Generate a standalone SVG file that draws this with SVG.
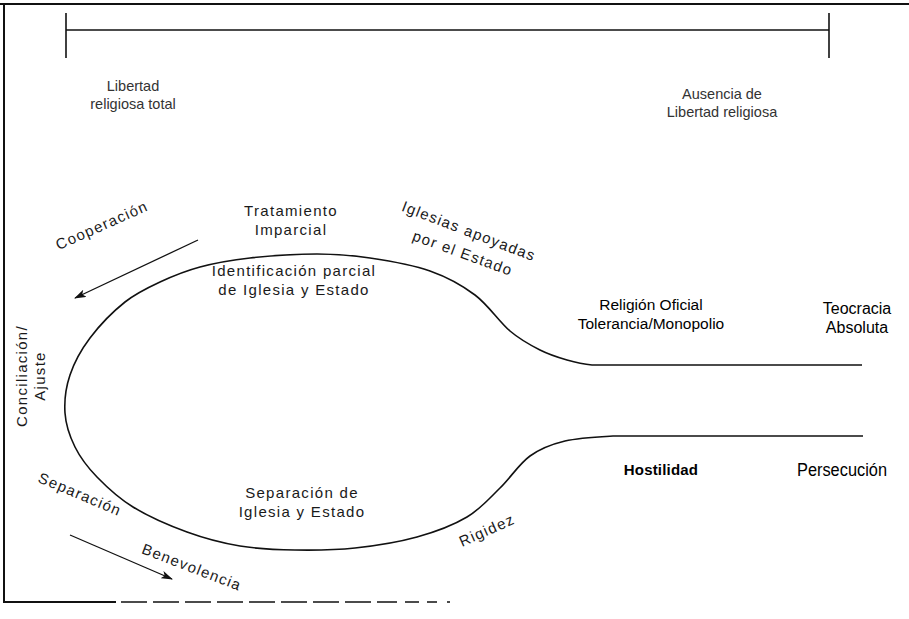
<svg xmlns="http://www.w3.org/2000/svg" width="909" height="619" viewBox="0 0 909 619">
  <style>
    .t { font-family: "Liberation Sans", Arial, sans-serif; fill: #1a1a1a; }
    .g { fill: #333; }
    .s15 { font-size: 15px; letter-spacing: 1.3px; }
    .s14 { font-size: 14.5px; }
    .blk { fill: #000; }
    .ln { fill: none; stroke: #111; stroke-width: 1.6; }
  </style>
  <defs>
    <marker id="ah" viewBox="0 0 12 8" refX="11" refY="4" markerWidth="12" markerHeight="8" markerUnits="userSpaceOnUse" orient="auto">
      <path d="M0,0 L12,4 L0,8 L3,4 Z" fill="#111"/>
    </marker>
  </defs>

  <!-- frame -->
  <g id="frame" class="ln">
    <line x1="0" y1="4" x2="909" y2="4" stroke-width="1.8"/>
    <line x1="4" y1="4" x2="4" y2="603" stroke-width="2"/>
    <line x1="3" y1="602" x2="116" y2="602" stroke-width="2"/>
    <path d="M121,602 H450" stroke-width="1.6" stroke-dasharray="26 6 26 6 26 6 26 6 26 6 26 6 26 6 26 6 20 8 14 8 10 10"/>
  </g>

  <!-- scale -->
  <g id="scale" class="ln">
    <line x1="66" y1="30" x2="829" y2="30"/>
    <line x1="66" y1="13" x2="66" y2="58"/>
    <line x1="829" y1="13" x2="829" y2="58"/>
  </g>
  <g id="pole-left">
    <text class="t g s14" x="133" y="91" text-anchor="middle">Libertad</text>
    <text class="t g s14" x="133" y="109" text-anchor="middle">religiosa total</text>
  </g>
  <g id="pole-right">
    <text class="t g s14" x="722" y="99" text-anchor="middle">Ausencia de</text>
    <text class="t g s14" x="722" y="117" text-anchor="middle">Libertad religiosa</text>
  </g>

  <!-- connectors -->
  <g id="connectors" class="ln">
    <path id="curve" d="M862,365 L592,365 C583.2,364.2 575.7,362.5 567,360 C558.3,357.5 549.5,354.8 540,350 C530.5,345.2 520.8,340.2 510,331 C499.2,321.8 488.3,305 475,295 C461.7,285 447.5,277.2 430,271 C412.5,264.8 388.8,260.8 370,258 C351.2,255.2 337,254 317,254 C297,254 269.5,255.8 250,258 C230.5,260.2 215,263 200,267 C185,271 172.5,276.2 160,282 C147.5,287.8 136.7,292.7 125,302 C113.3,311.3 99.2,325.8 90,338 C80.8,350.2 74.2,362.5 70,375 C65.8,387.5 64.2,401 65,413 C65.8,425 69.7,436.3 75,447 C80.3,457.7 87.3,467 97,477 C106.7,487 118,497.8 133,507 C148,516.2 169.2,525.5 187,532 C204.8,538.5 222,543 240,546 C258,549 275.8,549.7 295,550 C314.2,550.3 334.7,550.2 355,548 C375.3,545.8 398.3,542.2 417,537 C435.7,531.8 453.2,525.2 467,517 C480.8,508.8 489.5,498.2 500,488 C510.5,477.8 519.2,463.8 530,456 C540.8,448.2 551.2,444.3 565,441 C578.8,437.7 598.8,436.8 613,436 L863,436"/>
    <line id="arrow-coop" x1="198" y1="240" x2="75" y2="298" stroke-width="1.3" marker-end="url(#ah)"/>
    <line id="arrow-benev" x1="70" y1="535" x2="172" y2="579" stroke-width="1.3" marker-end="url(#ah)"/>
  </g>

  <g id="n-tratamiento">
    <text class="t s15" x="291" y="216" text-anchor="middle">Tratamiento</text>
    <text class="t s15" x="291" y="235" text-anchor="middle">Imparcial</text>
  </g>
  <g id="n-cooperacion">
    <text class="t s15" transform="translate(104,230) rotate(-24)" text-anchor="middle">Cooperación</text>
  </g>
  <g id="n-identificacion">
    <text class="t s15" x="294" y="276" text-anchor="middle">Identificación parcial</text>
    <text class="t s15" x="294" y="295" text-anchor="middle">de Iglesia y Estado</text>
  </g>
  <g id="n-iglesias">
    <text class="t s15" transform="translate(467,236) rotate(21)" text-anchor="middle">Iglesias apoyadas</text>
    <text class="t s15" transform="translate(461,258) rotate(20)" text-anchor="middle">por el Estado</text>
  </g>
  <g id="n-religion">
    <text class="t blk" font-size="15.5" x="651" y="310" text-anchor="middle">Religión Oficial</text>
    <text class="t blk" font-size="15.5" x="651" y="329" text-anchor="middle">Tolerancia/Monopolio</text>
  </g>
  <g id="n-teocracia">
    <text class="t blk" font-size="16" x="857" y="314" text-anchor="middle">Teocracia</text>
    <text class="t blk" font-size="16" x="857" y="333" text-anchor="middle">Absoluta</text>
  </g>
  <g id="n-conciliacion">
    <text class="t s15" transform="translate(27,376) rotate(-90)" text-anchor="middle">Conciliación/</text>
    <text class="t s15" transform="translate(45,376) rotate(-90)" text-anchor="middle">Ajuste</text>
  </g>
  <g id="n-separacion-lado">
    <text class="t s15" transform="translate(78,499) rotate(23)" text-anchor="middle">Separación</text>
  </g>
  <g id="n-separacion">
    <text class="t s15" x="302" y="498" text-anchor="middle">Separación de</text>
    <text class="t s15" x="302" y="517" text-anchor="middle">Iglesia y Estado</text>
  </g>
  <g id="n-benevolencia">
    <text class="t s15" transform="translate(190,572) rotate(21)" text-anchor="middle">Benevolencia</text>
  </g>
  <g id="n-rigidez">
    <text class="t s15" transform="translate(489,535) rotate(-24)" text-anchor="middle">Rigidez</text>
  </g>
  <g id="n-hostilidad">
    <text class="t blk" font-size="15" font-weight="bold" letter-spacing="0.2" x="661" y="475" text-anchor="middle">Hostilidad</text>
  </g>
  <g id="n-persecucion">
    <text class="t blk" font-size="17.5" x="842" y="476" text-anchor="middle" textLength="90" lengthAdjust="spacingAndGlyphs">Persecución</text>
  </g>
</svg>
